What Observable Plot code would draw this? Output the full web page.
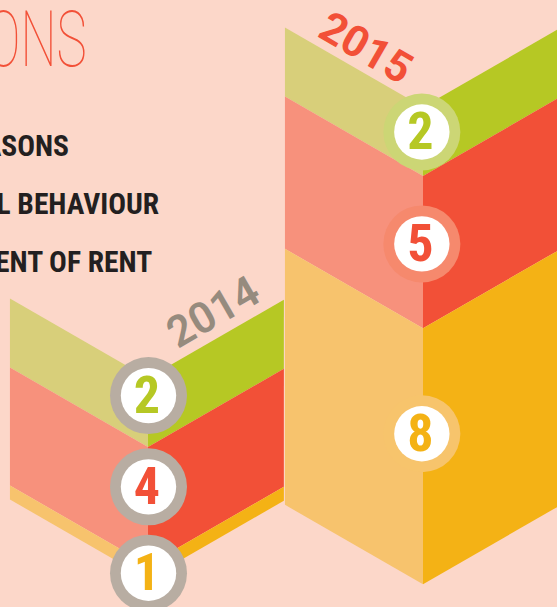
<!DOCTYPE html>
<html>
<head>
<meta charset="utf-8">
<script src="https://cdn.jsdelivr.net/npm/d3@7"></script>
<script src="https://cdn.jsdelivr.net/npm/@observablehq/plot@0.6"></script>
<style>
html,body{margin:0;padding:0;background:#fcd7c9;overflow:hidden}
svg{display:block;overflow:hidden}
</style>
</head>
<body>
<div id="chart"></div>
<script>
// Categories and values
const years = ["2014", "2015"];
const bands = ["green", "red", "orange"];
const counts2014 = [2, 4, 1];
const counts2015 = [2, 5, 8];
// Drawn band thickness (value units, top to bottom)
const drawn2014 = [2.17, 3.71, 0.44];
const drawn2015 = [2.17, 4.79, 8.05];
const floor2014 = 0.167;
const floor2015 = 0;
// Level of each number badge on the y scale
const badge2014 = [5.95, 3.08, 0.365];
const badge2015 = [14.24, 10.72, 4.75];
// Keys and colours
const faceKeys = ["green-left","green-right","red-left","red-right","orange-left","orange-right"];
const faceColors = ["#d8cf7a","#b6c824","#f7917c","#f25037","#f7c36d","#f4b215"];
const digitColors = {green:"#b6c824", red:"#f25037", orange:"#f4b215"};
const ringColors2015 = {green:"#ccd675", red:"#f6896d", orange:"#f7c46c"};
const ringColor2014 = "#b8ada2";
const reasonLabels = ["ASONS", "AL BEHAVIOUR", "MENT OF RENT"];
const titleLabel = "ONS";

const rise = 2.49;          // how far the outer edge climbs above the fold
const leftEdge = [-0.502, -0.502], rightEdge = [0.494, 0.5];

const columns = [
  {i: 0, drawn: drawn2014, floor: floor2014, counts: counts2014, badge: badge2014},
  {i: 1, drawn: drawn2015, floor: floor2015, counts: counts2015, badge: badge2015}
];

const faces = columns.flatMap(col => {
  let top = col.floor + d3.sum(col.drawn);
  return col.drawn.flatMap((d, b) => {
    const hi = top, lo = top - d; top = lo;
    const mk = (side, u) => ({
      key: `${years[col.i]}-${bands[b]}-${side}`,
      face: `${bands[b]}-${side}`,
      x: col.i + u,
      y1: lo + rise * Math.abs(u) / 0.5,
      y2: hi + rise * Math.abs(u) / 0.5
    });
    return [
      mk("left", leftEdge[col.i]), mk("left", 0),
      mk("right", 0), mk("right", rightEdge[col.i])
    ];
  });
});

const badges = columns.flatMap(col => col.counts.map((n, b) => ({
  x: col.i - 0.006 * col.i,
  y: col.badge[b],
  n,
  ring: col.i === 0 ? ringColor2014 : ringColors2015[bands[b]],
  digit: digitColors[bands[b]]
})));

const condensed = "'Liberation Sans Narrow','Roboto Condensed','Liberation Sans',sans-serif";
const pxPerUnit = 31.8, foldBase = 584.3;

const plot = Plot.plot({
  width: 557, height: 607,
  margin: 0,
  style: {background: "#fcd7c9"},
  x: {domain: [-148/275, (557-148)/275], range: [0, 557], axis: null},
  y: {domain: [0, foldBase/pxPerUnit], range: [foldBase, 0], axis: null},
  color: {domain: faceKeys, range: faceColors},
  marks: [
    Plot.areaY(faces, {x: "x", y1: "y1", y2: "y2", z: "key", fill: "face", curve: "linear"}),
    Plot.dot(badges, {x: "x", y: "y", r: 38.5, fill: d => d.ring, stroke: null}),
    Plot.dot(badges, {x: "x", y: "y", r: 27.7, fill: "white", stroke: null}),
    Plot.text(badges, {x: "x", y: "y", text: d => String(d.n), fill: d => d.digit,
      fontFamily: condensed, fontWeight: 700, fontSize: 52, lineAnchor: "middle", dx: -1.5, dy: 0.5}),
    Plot.text([years[0]], {frameAnchor: "top-left", dx: 213, dy: 312, rotate: -30, textAnchor: "middle", fill: "#968b7e",
      fontFamily: "Roboto, sans-serif", fontWeight: 600, fontSize: 43, lineAnchor: "middle", text: d => d}),
    Plot.text([years[1]], {frameAnchor: "top-left", dx: 365, dy: 48, rotate: 30, textAnchor: "middle", fill: "#f25037",
      fontFamily: "Roboto, sans-serif", fontWeight: 700, fontSize: 43, lineAnchor: "middle", text: d => d}),
    Plot.text([reasonLabels[0]], {frameAnchor: "top-left", dx: 68.5, dy: 155, text: d => d, textAnchor: "end", lineAnchor: "bottom",
      fill: "#231f20", fontFamily: condensed, fontWeight: 700, fontSize: 29.5}),
    Plot.text([reasonLabels[1]], {frameAnchor: "top-left", dx: 158.7, dy: 213, text: d => d, textAnchor: "end", lineAnchor: "bottom",
      fill: "#231f20", fontFamily: condensed, fontWeight: 700, fontSize: 29.5}),
    Plot.text([reasonLabels[2]], {frameAnchor: "top-left", dx: 151.7, dy: 271.7, text: d => d, textAnchor: "end", lineAnchor: "bottom",
      fill: "#231f20", fontFamily: condensed, fontWeight: 700, fontSize: 29.5}),
    Plot.text([titleLabel], {frameAnchor: "top-left", dx: 86, dy: 65.5, text: d => d, textAnchor: "end", lineAnchor: "bottom",
      fill: "#f25037", fontFamily: "Roboto, sans-serif", fontWeight: 100, fontSize: 78, className: "title-label"})
  ]
});
document.getElementById("chart").appendChild(plot);
d3.select(plot).selectAll(".title-label text")
  .attr("textLength", 100).attr("lengthAdjust", "spacingAndGlyphs");
</script>
</body>
</html>
